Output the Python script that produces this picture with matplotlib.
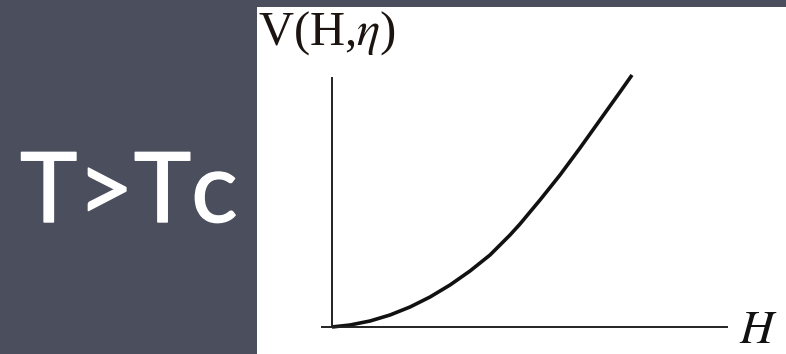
import matplotlib
matplotlib.use("Agg")
import matplotlib.pyplot as plt
import matplotlib.patheffects as pe
from matplotlib.patches import Rectangle

# curve (H, V)
h_vals = [0, 0.18, 0.38, 0.58, 0.78, 0.98, 1.18, 1.38, 1.58, 1.78, 1.88,
          2.08, 2.28, 2.48, 2.68, 2.88, 3.00]
v_vals = [0, 0.02, 0.06, 0.12, 0.20, 0.30, 0.42, 0.56, 0.72, 0.92, 1.03,
          1.27, 1.52, 1.79, 2.07, 2.35, 2.52]

title_text = "T>Tc"
y_label = r"V(H,$\eta$)"
x_label = r"$H$"

W, H = 786, 354
plt.rcParams["mathtext.fontset"] = "stix"

fig = plt.figure(figsize=(W / 100, H / 100), dpi=100)
fig.patch.set_facecolor("#4b4f5d")

# white panel holding the graph
fig.patches.append(Rectangle((257 / W, 0), 1 - 257 / W, (H - 7) / H,
                             transform=fig.transFigure, facecolor="white",
                             edgecolor="none", zorder=-5))

# slight white outline gives the rounded strokes of the slide font
fx = [pe.withStroke(linewidth=1.0, foreground="white")]
fig.text(20 / W, (H - 222) / H, title_text, color="white", fontsize=70,
         family="Lato", va="baseline", ha="left", path_effects=fx)

ax = fig.add_axes([322 / W, (H - 327) / H, 405 / W, 249 / H])
ax.set_facecolor("none")
ax.plot(h_vals, v_vals, color="#111111", lw=2.6, clip_on=False,
        solid_joinstyle="round", solid_capstyle="butt")
ax.set_xlim(-0.10, 3.95)
ax.set_ylim(0, 2.49)
for s in ["top", "right"]:
    ax.spines[s].set_visible(False)
ax.spines["left"].set_position(("data", 0))
for s in ["left", "bottom"]:
    ax.spines[s].set_linewidth(1.4)
    ax.spines[s].set_color("#222222")
ax.set_xticks([])
ax.set_yticks([])

fig.text(258 / W, (H - 45) / H, y_label, color="#1c1410", fontsize=35,
         family="Liberation Serif", va="baseline", ha="left")
fig.text(739 / W, (H - 343) / H, x_label, color="#111111", fontsize=34,
         va="baseline", ha="left")

fig.savefig("out.png", dpi=100, facecolor=fig.get_facecolor())
